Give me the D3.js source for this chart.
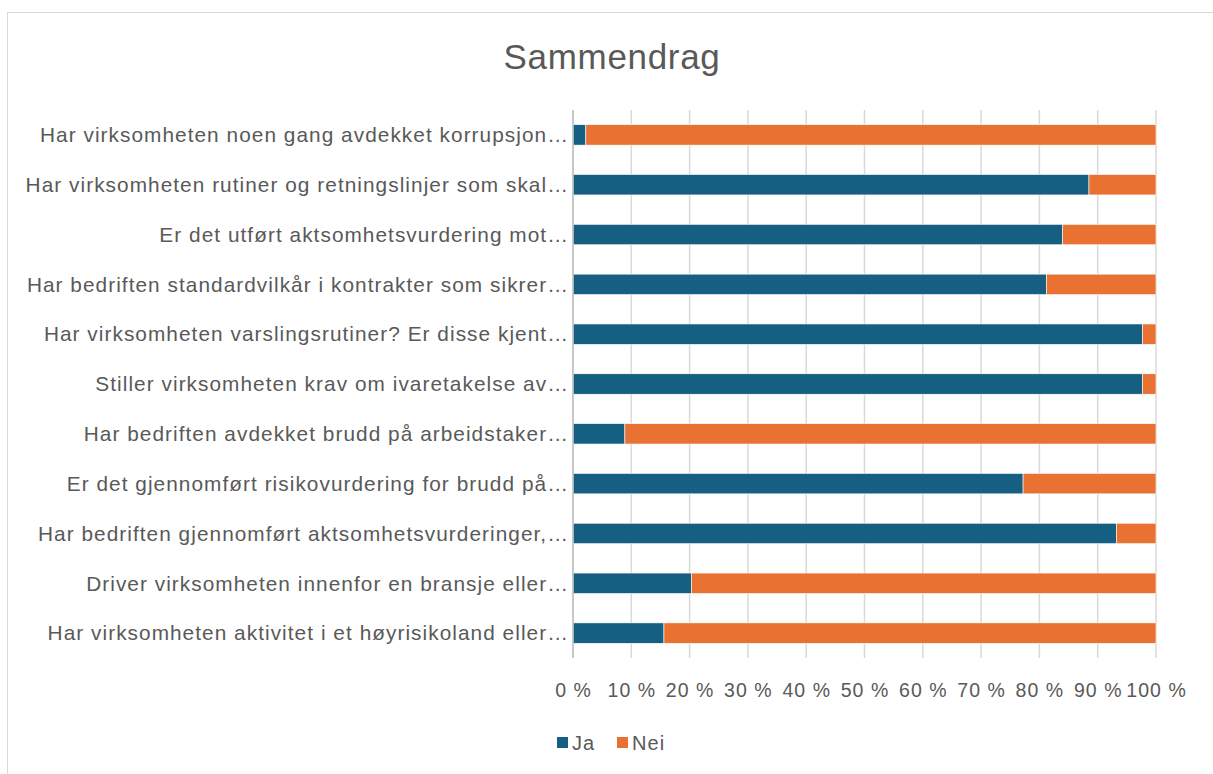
<!DOCTYPE html>
<html><head><meta charset="utf-8">
<script src="https://cdn.jsdelivr.net/npm/d3@7"></script>
<style>body{margin:0;background:#fff}svg{display:block}</style>
</head><body>
<script>
const categories = [
  "Har virksomheten noen gang avdekket korrupsjon…",
  "Har virksomheten rutiner og retningslinjer som skal…",
  "Er det utført aktsomhetsvurdering mot…",
  "Har bedriften standardvilkår i kontrakter som sikrer…",
  "Har virksomheten varslingsrutiner? Er disse kjent…",
  "Stiller virksomheten krav om ivaretakelse av…",
  "Har bedriften avdekket brudd på arbeidstaker…",
  "Er det gjennomført risikovurdering for brudd på…",
  "Har bedriften gjennomført aktsomhetsvurderinger,…",
  "Driver virksomheten innenfor en bransje eller…",
  "Har virksomheten aktivitet i et høyrisikoland eller…"
];
const jaValues  = [2.2, 88.5, 84.0, 81.2, 97.7, 97.7, 8.9, 77.2, 93.2, 20.3, 15.6];
const neiValues = jaValues.map(v => 100 - v);
const seriesNames = ["Ja", "Nei"];
const tickValues = [0,10,20,30,40,50,60,70,80,90,100];

const W = 1213, H = 774;
const colors = {Ja: "#156082", Nei: "#E97132"};
const textColor = "#595959";
const font = "'Liberation Sans', Arial, sans-serif";

const svg = d3.select("body").append("svg").attr("width", W).attr("height", H);
svg.append("rect").attr("x", 7.5).attr("y", 12.5).attr("width", W).attr("height", H)
  .attr("fill", "#fff").attr("stroke", "#d9d9d9");

const title = svg.append("text").attr("x", 612).attr("y", 69).attr("text-anchor", "middle")
  .attr("font-family", font).attr("font-size", 35).attr("fill", textColor).text("Sammendrag");
{
  const w = title.node().getComputedTextLength();
  title.attr("letter-spacing", (217 - w) / 10);
}

const x = d3.scaleLinear().domain([0, 100]).range([573, 1156]);
const y = d3.scaleBand().domain(categories).range([110, 658]).paddingInner(0.59).paddingOuter(0.295);

// gridlines
svg.append("g").selectAll("line").data(tickValues).join("line")
  .attr("x1", d => x(d)).attr("x2", d => x(d)).attr("y1", 110).attr("y2", 658)
  .attr("stroke", "#d9d9d9").attr("stroke-width", 1.5);

const stackData = categories.map((c, i) => ({cat: c, Ja: jaValues[i], Nei: neiValues[i]}));
const stack = d3.stack().keys(seriesNames)(stackData);
svg.append("g").selectAll("g").data(stack).join("g").attr("fill", d => colors[d.key])
  .selectAll("rect").data(d => d).join("rect")
  .attr("x", d => x(d[0])).attr("width", d => x(d[1]) - x(d[0]))
  .attr("y", d => y(d.data.cat)).attr("height", y.bandwidth())
  .attr("stroke", "#fff").attr("stroke-width", 0.6);

// zero axis line
svg.append("line").attr("x1", x(0)).attr("x2", x(0)).attr("y1", 110).attr("y2", 658)
  .attr("stroke", "#bfbfbf").attr("stroke-width", 1.5);

// category labels
const labels = svg.append("g").selectAll("text").data(categories).join("text")
  .attr("x", 569).attr("y", d => y(d) + y.bandwidth() / 2).attr("dy", "0.35em")
  .attr("text-anchor", "end").attr("font-family", font).attr("font-size", 20.8).attr("fill", textColor)
  .text(d => d);
const w0 = labels.nodes()[0].getComputedTextLength();
const ls = (529 - w0) / categories[0].length;
labels.attr("letter-spacing", ls);

// axis
const ax = svg.append("g").attr("transform", "translate(0,658)")
  .call(d3.axisBottom(x).tickValues(tickValues).tickFormat(d => d + " %").tickSize(0).tickPadding(25));
ax.select(".domain").remove();
ax.selectAll("text").attr("font-family", font).attr("font-size", 19.5).attr("fill", textColor)
  .attr("letter-spacing", ls);

// legend
const lg = svg.append("g").selectAll("g").data(seriesNames).join("g")
  .attr("transform", (d, i) => `translate(${i === 0 ? 557 : 617},737)`);
lg.append("rect").attr("width", 11).attr("height", 11).attr("fill", d => colors[d]);
lg.append("text").attr("x", 15).attr("y", 5.5).attr("dy", "0.35em")
  .attr("font-family", font).attr("font-size", 20).attr("fill", textColor)
  .attr("letter-spacing", ls).text(d => d);
</script>
</body></html>
